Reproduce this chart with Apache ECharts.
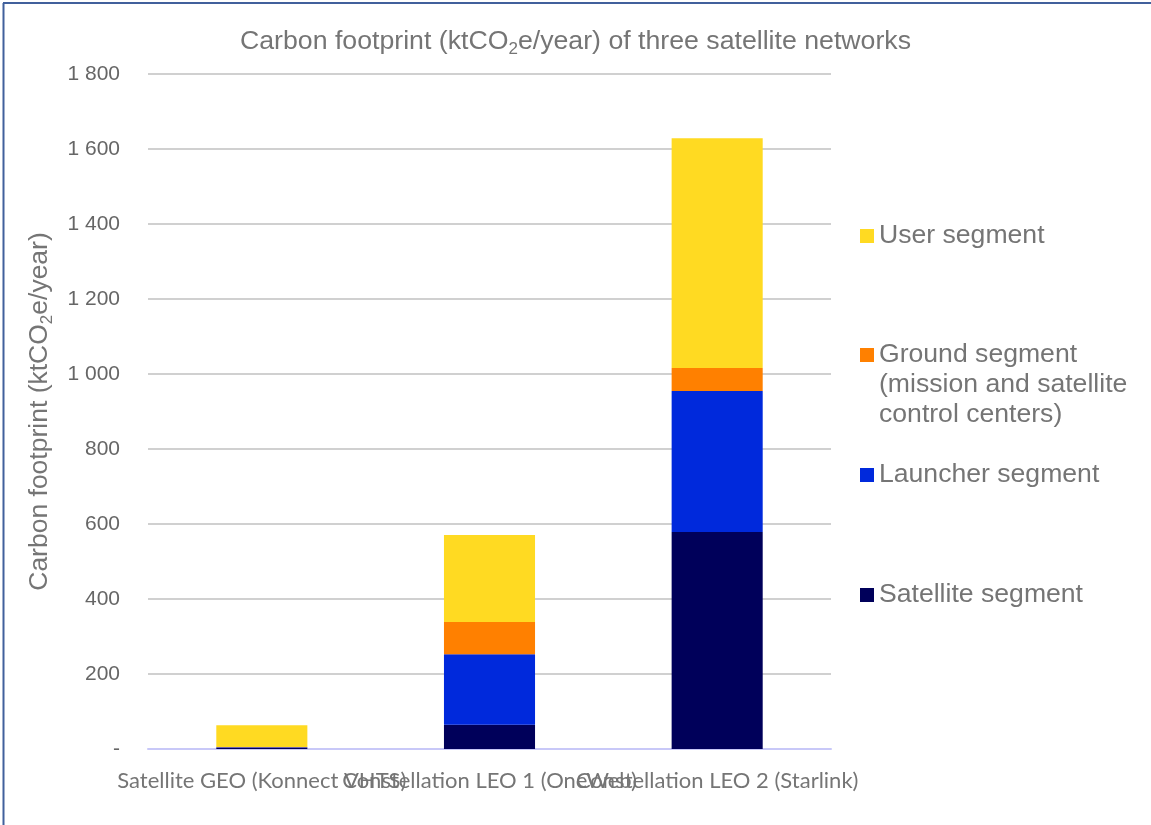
<!DOCTYPE html>
<html>
<head>
<meta charset="utf-8">
<script src="https://cdn.jsdelivr.net/npm/echarts@6/dist/echarts.min.js"></script>
<style>
html,body{margin:0;padding:0;background:#fff;}
#chart{width:1151px;height:825px;}
</style>
</head>
<body>
<div id="chart"></div>
<script>
const categories = ['Satellite GEO (Konnect VHTS)', 'Constellation LEO 1 (OneWeb)', 'Constellation LEO 2 (Starlink)'];
const satelliteSegment = [3, 65, 579];
const launcherSegment = [2, 188, 376];
const groundSegment = [0.5, 86, 61];
const userSegment = [58, 232, 613];
const seriesNames = ['Satellite segment', 'Launcher segment', 'Ground segment (mission and satellite control centers)', 'User segment'];
const seriesColors = ['#00005a', '#0029dc', '#ff8000', '#ffda22'];
const yTicks = [0, 200, 400, 600, 800, 1000, 1200, 1400, 1600, 1800];

const chart = echarts.init(document.getElementById('chart'));
const FONT = 'Liberation Sans';
const textGray = '#757575';

function fmtTick(v) {
  if (v === 0) return '-';
  return String(v).replace(/\B(?=(\d{3})+(?!\d))/g, ' ');
}

const dataSets = [satelliteSegment, launcherSegment, groundSegment, userSegment];
const series = dataSets.map((d, i) => ({
  name: seriesNames[i],
  type: 'bar',
  stack: 'total',
  barWidth: '40%',
  data: d,
  itemStyle: { color: seriesColors[i] },
  emphasis: { disabled: true }
}));

function legendFor(name, top, extra) {
  return Object.assign({
    data: [name],
    orient: 'vertical',
    left: 860,
    top: top,
    padding: 0,
    itemWidth: 14,
    itemHeight: 14,
    itemGap: 0,
    icon: 'rect',
    selectedMode: false,
    textStyle: { fontFamily: FONT, fontSize: 26.6, color: textGray, lineHeight: 30 }
  }, extra || {});
}

const option = {
  animation: false,
  backgroundColor: '#fff',
  title: {
    text: '{m|Carbon footprint (ktCO}{s|2}{m|e/year) of three satellite networks}',
    left: 'center',
    top: 21,
    textStyle: {
      fontWeight: 'normal',
      rich: {
        m: { fontFamily: FONT, fontSize: 26.7, fontWeight: 'normal', color: textGray, lineHeight: 32 },
        s: { fontFamily: FONT, fontSize: 17, fontWeight: 'normal', color: textGray, verticalAlign: 'bottom', lineHeight: 17 }
      }
    }
  },
  legend: [
    legendFor(seriesNames[3], 221),
    legendFor(seriesNames[2], 280, {
      formatter: () => '\n\nGround segment\n(mission and satellite\ncontrol centers)'
    }),
    legendFor(seriesNames[1], 460),
    legendFor(seriesNames[0], 580)
  ],
  grid: { left: 148, right: 320, top: 74, bottom: 76, outerBoundsMode: 'none' },
  xAxis: {
    type: 'category',
    data: categories,
    axisLine: { show: true, lineStyle: { color: '#c8c8f8', width: 2 } },
    axisTick: { show: false },
    axisLabel: { interval: 0, margin: 21, fontFamily: 'Lato', fontSize: 22, color: textGray }
  },
  yAxis: {
    type: 'value',
    min: 0,
    max: 1800,
    interval: 200,
    axisLine: { show: false },
    axisTick: { show: false },
    splitLine: { lineStyle: { color: '#c0c0c0', width: 1.5 } },
    axisLabel: { margin: 28, fontFamily: FONT, fontSize: 21, color: '#666', formatter: (v) => yTicks.indexOf(v) >= 0 ? fmtTick(v) : '' },
    name: '{m|Carbon footprint (ktCO}{s|2}{m|e/year)}',
    nameLocation: 'middle',
    nameGap: 92,
    nameRotate: 90,
    nameTextStyle: {
      rich: {
        m: { fontFamily: FONT, fontSize: 26.5, color: textGray, lineHeight: 32 },
        s: { fontFamily: FONT, fontSize: 17, color: textGray, verticalAlign: 'bottom', lineHeight: 17 }
      }
    }
  },
  graphic: [
    { type: 'line', shape: { x1: 3, y1: 3, x2: 1151, y2: 3 }, style: { stroke: '#41609c', lineWidth: 2 }, silent: true },
    { type: 'line', shape: { x1: 3.5, y1: 3, x2: 3.5, y2: 825 }, style: { stroke: '#41609c', lineWidth: 2 }, silent: true }
  ],
  series: series
};
chart.setOption(option);
</script>
</body>
</html>
